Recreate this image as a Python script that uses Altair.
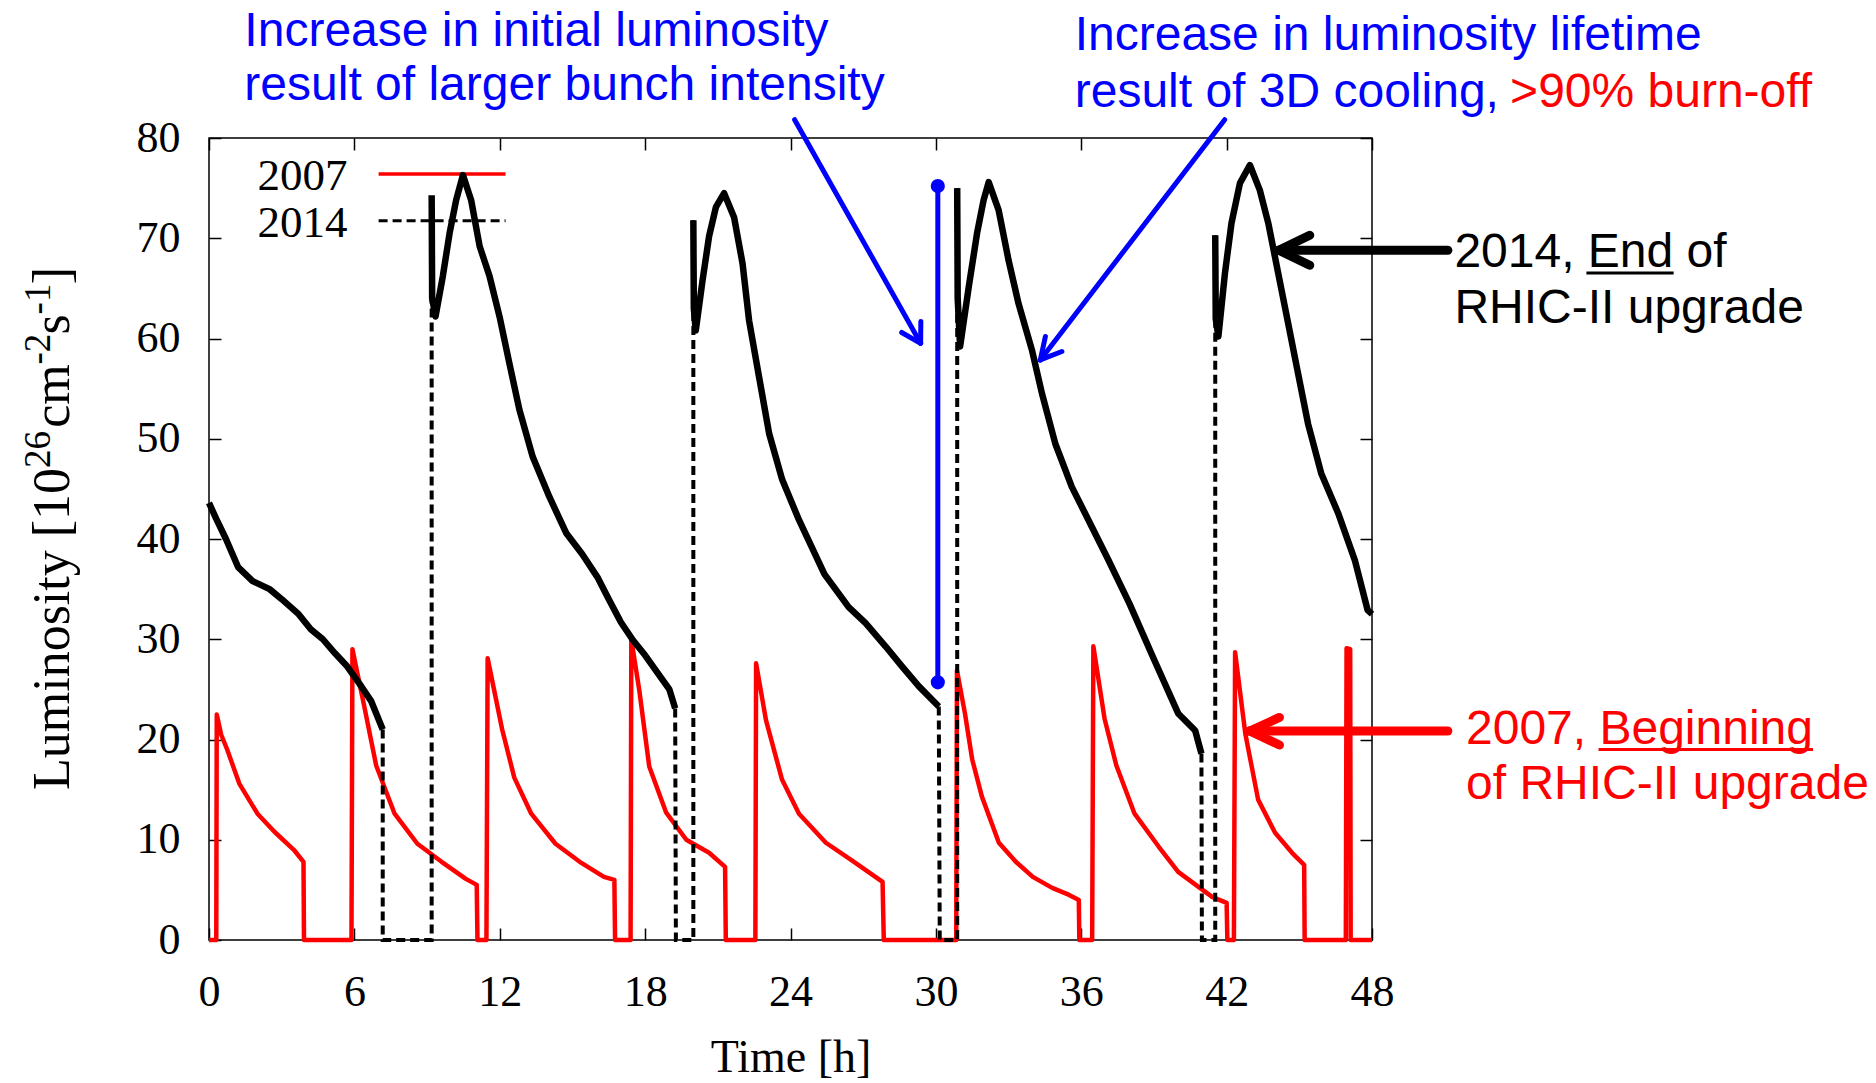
import altair as alt
import pandas as pd

# ---------------- data ----------------
# 2007 luminosity (red), one continuous trace
red_t = [0.0, 0.3, 0.32, 0.5, 0.75, 1.25, 2.0, 2.7, 3.5, 3.9, 3.92,
         5.88, 5.92, 6.4, 6.9, 7.66, 8.6, 9.6, 10.6, 11.05, 11.08,
         11.45, 11.5, 12.1, 12.6, 13.3, 14.3, 15.3, 16.3, 16.73, 16.76,
         17.4, 17.43, 17.76, 18.17, 18.87, 19.7, 20.64, 21.3, 21.33,
         22.55, 22.58, 22.99, 23.65, 24.35, 25.46, 26.5, 27.8, 27.85,
         30.84, 30.87, 31.2, 31.5, 31.9, 32.6, 33.3, 34.0, 34.8, 35.5, 35.9, 35.92,
         36.45, 36.5, 36.96, 37.45, 38.2, 39.2, 40.0, 41.4, 42.0, 42.03,
         42.3, 42.35, 42.77, 43.3, 44.0, 44.7, 45.2, 45.22,
         46.92, 46.95, 47.1, 47.12, 48.0]
red_v = [0, 0, 22.5, 20.5, 19.0, 15.6, 12.6, 10.8, 9.0, 7.8, 0,
         0, 29.0, 23.4, 17.4, 12.6, 9.6, 7.8, 6.1, 5.5, 0,
         0, 28.1, 21.0, 16.2, 12.6, 9.6, 7.8, 6.3, 6.0, 0,
         0, 30.0, 24.9, 17.3, 12.7, 10.0, 8.7, 7.3, 0,
         0, 27.6, 21.9, 16.0, 12.6, 9.7, 8.0, 5.8, 0,
         0, 26.9, 22.6, 18.0, 14.3, 9.7, 7.8, 6.3, 5.2, 4.5, 4.0, 0,
         0, 29.3, 22.1, 17.4, 12.6, 9.3, 6.8, 4.3, 3.7, 0,
         0, 28.7, 20.6, 14.0, 10.7, 8.7, 7.5, 0,
         0, 29.1, 29.0, 0, 0]

# 2014 luminosity (black): stores (continuous traces)
b0_t = [0.0, 0.3, 0.7, 1.2, 1.8, 2.5, 3.0, 3.7, 4.2, 4.7, 5.2, 5.7, 6.2, 6.7, 7.17]
b0_v = [43.6, 42.0, 40.0, 37.2, 35.8, 35.0, 34.0, 32.5, 31.0, 30.0, 28.6, 27.3, 25.6, 23.8, 21.0]
b1_t = [9.19, 9.21, 9.35, 9.65, 9.93, 10.2, 10.48, 10.82, 11.17, 11.58, 11.99, 12.40,
        12.81, 13.36, 14.05, 14.74, 15.4, 16.03, 16.5, 17.0, 17.5, 18.0, 18.5, 19.0, 19.24]
b1_v = [74.3, 64.0, 62.2, 66.2, 70.5, 73.8, 76.3, 73.8, 69.2, 66.2, 62.2, 57.5,
        52.9, 48.2, 44.2, 40.6, 38.5, 36.2, 34.0, 31.7, 29.9, 28.4, 26.7, 25.0, 23.1]
b2_t = [19.99, 20.01, 20.09, 20.37, 20.64, 20.92, 21.26, 21.67, 22.02, 22.29, 22.70,
        23.12, 23.66, 24.35, 25.4, 26.4, 27.1, 27.92, 28.6, 29.3, 30.12]
b2_v = [71.8, 63.0, 60.8, 65.8, 70.2, 73.1, 74.5, 72.1, 67.5, 61.8, 56.2,
        50.5, 45.9, 41.9, 36.5, 33.2, 31.6, 29.3, 27.3, 25.3, 23.3]
b3_t = [30.88, 30.9, 31.0, 31.36, 31.70, 31.97, 32.18, 32.59, 33.0, 33.41, 33.96,
        34.38, 34.93, 35.61, 36.44, 37.1, 38.0, 39.0, 40.0, 40.7, 40.96]
b3_v = [75.0, 64.0, 59.2, 65.2, 70.5, 73.8, 75.6, 72.8, 67.8, 63.5, 58.9,
        54.5, 49.5, 45.2, 41.2, 38.0, 33.5, 28.0, 22.6, 20.9, 18.6]
b4_t = [41.53, 41.55, 41.66, 41.93, 42.2, 42.55, 42.96, 43.37, 43.72, 44.13, 44.54,
        44.95, 45.36, 45.91, 46.6, 47.29, 47.82, 48.0]
b4_v = [70.3, 62.0, 60.2, 66.5, 71.5, 75.5, 77.3, 74.8, 71.5, 66.5, 61.5,
        56.5, 51.5, 46.5, 42.6, 37.9, 32.9, 32.5]
# 2014 gaps between stores (drawn dashed)
g0_t = [7.17, 7.17, 9.19, 9.19];     g0_v = [21.0, 0, 0, 74.3]
g1_t = [19.24, 19.27, 19.99, 19.99]; g1_v = [23.1, 0, 0, 71.8]
g2_t = [30.12, 30.16, 30.88, 30.88]; g2_v = [23.3, 0, 0, 75.0]
g3_t = [40.96, 40.98, 41.53, 41.53]; g3_v = [18.6, 0, 0, 70.3]

# blue marker line
blue_t = [30.08, 30.08]
blue_v = [25.7, 75.2]

# axis ticks
x_ticks = [0, 6, 12, 18, 24, 30, 36, 42, 48]
y_ticks = [0, 10, 20, 30, 40, 50, 60, 70, 80]

# annotation texts
ann_text = ["Increase in initial luminosity", "result of larger bunch intensity",
            "Increase in luminosity lifetime", "result of 3D cooling,", ">90% burn-off",
            "2014, End of", "RHIC-II upgrade", "2007, Beginning", "of RHIC-II upgrade"]
ann_t = [1.46, 1.46, 35.73, 35.73, 53.7, 51.4, 51.4, 51.88, 51.88]
ann_v = [89.2, 83.8, 88.75, 83.05, 83.05, 67.13, 61.55, 19.6, 14.06]
ann_c = ["#0000ff", "#0000ff", "#0000ff", "#0000ff", "#ff0000",
         "#000000", "#000000", "#ff0000", "#ff0000"]

# underlines (start t, end t, v, colour)
ul_t = [56.85, 57.35]
ul_t2 = [60.45, 66.2]
ul_v = [66.53, 19.01]
ul_c = ["#000000", "#ff0000"]

# arrows as segments
arr_t = [24.17, 29.37, 29.37, 41.92, 34.31, 34.31, 51.13, 44.15, 44.15, 51.13, 42.95, 42.95]
arr_v = [81.83, 59.52, 59.52, 81.83, 57.86, 57.86, 68.8, 68.8, 68.8, 20.85, 20.85, 20.85]
arr_t2 = [29.37, 29.38, 28.59, 34.31, 35.2, 34.52, 44.15, 45.43, 45.43, 42.95, 44.18, 44.18]
arr_v2 = [59.52, 61.7, 60.6, 57.86, 58.7, 60.2, 68.8, 70.3, 67.3, 20.85, 22.2, 19.45]
arr_c = ["#0000ff"] * 6 + ["#000000"] * 3 + ["#ff0000"] * 3
arr_w = [5] * 6 + [9] * 6

# legend
leg_text = ["2007", "2014"]
leg_t = [5.72, 5.72]
leg_v = [74.8, 70.1]
leg_line_t = [7.0, 7.0]
leg_line_t2 = [12.24, 12.24]
leg_line_v = [76.4, 71.75]

# y-axis title pieces (rotated), with superscripts
yt_text = ["Luminosity [10", "26", "cm", "-2", "s", "-1", "]"]
yt_t = [-5.77, -6.55, -5.77, -6.55, -5.77, -6.55, -5.77]
yt_v = [14.96, 47.08, 51.1, 57.4, 60.4, 62.4, 65.4]
yt_size = [52, 37, 52, 37, 52, 37, 52]

# ---------------- frames ----------------
red_df = pd.DataFrame({"t": red_t, "v": red_v, "i": range(len(red_t))})

segs = [(b0_t, b0_v), (b1_t, b1_v), (b2_t, b2_v), (b3_t, b3_v), (b4_t, b4_v)]
rows = []
for k, (tt, vv) in enumerate(segs):
    for j, (a, b) in enumerate(zip(tt, vv)):
        rows.append({"t": a, "v": b, "seg": k, "i": j})
black_df = pd.DataFrame(rows)

gaps = [(g0_t, g0_v), (g1_t, g1_v), (g2_t, g2_v), (g3_t, g3_v)]
rows = []
for k, (tt, vv) in enumerate(gaps):
    for j, (a, b) in enumerate(zip(tt, vv)):
        rows.append({"t": a, "v": b, "seg": k, "i": j})
gap_df = pd.DataFrame(rows)

blue_df = pd.DataFrame({"t": blue_t, "v": blue_v, "i": [0, 1]})
ann_df = pd.DataFrame({"t": ann_t, "v": ann_v, "txt": ann_text, "c": ann_c})
ul_df = pd.DataFrame({"t": ul_t, "t2": ul_t2, "v": ul_v, "c": ul_c})
arr_df = pd.DataFrame({"t": arr_t, "v": arr_v, "t2": arr_t2, "v2": arr_v2, "c": arr_c, "w": arr_w})
leg_df = pd.DataFrame({"t": leg_t, "v": leg_v, "txt": leg_text})
legl_df = pd.DataFrame({"t": leg_line_t, "t2": leg_line_t2, "v": leg_line_v, "k": ["2007", "2014"]})
yt_df = pd.DataFrame({"t": yt_t, "v": yt_v, "txt": yt_text, "s": yt_size})

# ---------------- scales & axes ----------------
W, H = 1163, 802
TICK = 12
xs = alt.Scale(domain=[0, 48], nice=False, zero=False)
ys = alt.Scale(domain=[0, 80], nice=False, zero=False)

serif = "Liberation Serif"
sans = "Liberation Sans"

xax = alt.Axis(orient="bottom", values=x_ticks, offset=-TICK, tickSize=TICK, domain=False,
               grid=False, tickColor="black", tickWidth=1.5, labelFont=serif, labelFontSize=44,
               labelColor="black", labelBaseline="alphabetic", labelPadding=65, labelFlush=False,
               labelOverlap=False, title="Time [h]", titleFont=serif, titleFontSize=46,
               titleFontWeight="normal", titleColor="black", titleBaseline="alphabetic",
               titleAlign="center", titleX=W / 2, titleY=143)
yax = alt.Axis(orient="left", values=y_ticks, offset=-TICK, tickSize=TICK, domain=False,
               grid=False, tickColor="black", tickWidth=1.5, labelFont=serif, labelFontSize=44,
               labelColor="black", labelPadding=29, labelFlush=False, labelOverlap=False, title=None)

X = alt.X("t:Q", scale=xs, axis=xax)
Y = alt.Y("v:Q", scale=ys, axis=yax)

red_line = alt.Chart(red_df).mark_line(color="#ff0000", strokeWidth=4.5, strokeJoin="round").encode(
    x=X, y=Y, order="i:Q")

legend_txt = alt.Chart(leg_df).mark_text(font=serif, fontSize=45, align="right",
                                         baseline="alphabetic", color="black").encode(
    x=X, y=Y, text="txt:N")
legend_red = alt.Chart(legl_df[legl_df.k == "2007"]).mark_rule(color="#ff0000", strokeWidth=3.5).encode(
    x=X, x2="t2:Q", y=Y)
legend_black = alt.Chart(legl_df[legl_df.k == "2014"]).mark_rule(
    color="black", strokeWidth=3, strokeDash=[9, 5]).encode(x=X, x2="t2:Q", y=Y)

gap_line = alt.Chart(gap_df).mark_line(color="black", strokeWidth=4, strokeDash=[9, 5]).encode(
    x=X, y=Y, detail="seg:N", order="i:Q")
black_line = alt.Chart(black_df).mark_line(color="black", strokeWidth=6.5, strokeJoin="round").encode(
    x=X, y=Y, detail="seg:N", order="i:Q")

blue_line = alt.Chart(blue_df).mark_line(color="#0000ff", strokeWidth=5).encode(x=X, y=Y, order="i:Q")
blue_dots = alt.Chart(blue_df).mark_circle(color="#0000ff", size=200, opacity=1).encode(x=X, y=Y)

arrows = alt.Chart(arr_df).mark_rule(strokeCap="round").encode(
    x=X, y=Y, x2="t2:Q", y2="v2:Q",
    color=alt.Color("c:N", scale=None),
    strokeWidth=alt.StrokeWidth("w:Q", scale=None))

texts = alt.Chart(ann_df).mark_text(font=sans, fontSize=48, align="left", baseline="alphabetic").encode(
    x=X, y=Y, text="txt:N", color=alt.Color("c:N", scale=None))

underlines = alt.Chart(ul_df).mark_rule(strokeWidth=3).encode(
    x=X, x2="t2:Q", y=Y, color=alt.Color("c:N", scale=None))

ytitle = alt.Chart(yt_df).mark_text(font=serif, align="left", baseline="alphabetic", angle=270,
                                    color="black").encode(
    x=X, y=Y, text="txt:N", size=alt.Size("s:Q", scale=None))

inner = alt.layer(red_line, legend_red, legend_txt, legend_black, gap_line, black_line,
                  blue_line, blue_dots, arrows, texts, underlines, ytitle)

# mirrored inward ticks on top and right
xax_top = alt.Axis(orient="top", values=x_ticks, offset=-TICK, tickSize=TICK, domain=False,
                   grid=False, labels=False, tickColor="black", tickWidth=1.5, title=None)
yax_right = alt.Axis(orient="right", values=y_ticks, offset=-TICK, tickSize=TICK, domain=False,
                     grid=False, labels=False, tickColor="black", tickWidth=1.5, title=None)
mirror = alt.Chart(blue_df).mark_point(opacity=0, size=1).encode(
    x=alt.X("t:Q", scale=xs, axis=xax_top), y=alt.Y("v:Q", scale=ys, axis=yax_right))

chart = alt.layer(inner, mirror).resolve_axis(x="independent", y="independent").properties(
    width=W, height=H,
    padding={"left": 209, "top": 138, "right": 1876 - 209 - W, "bottom": 1083 - 138 - H},
    autosize=alt.AutoSizeParams(type="none"),
    background="white",
).configure_view(stroke="black", strokeWidth=1.5)

chart.save("out.html", embed_options={"renderer": "svg", "actions": False})
